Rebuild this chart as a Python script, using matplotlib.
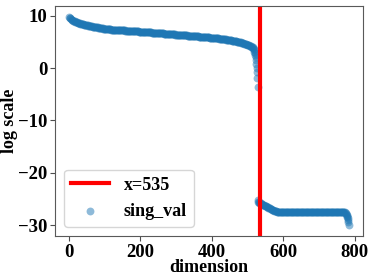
import numpy             as np
import matplotlib
matplotlib.use("Agg")
import matplotlib.pyplot as plt

#*---------- ----------
#*     data
#*---------- ----------
cut = 535

# upper part, every 4th dimension 0..516
dim_head = list(range(0, 520, 4))
val_head = [
    9.80, 9.50, 9.27, 9.08, 8.93, 8.80, 8.70, 8.60, 8.51, 8.43,
    8.36, 8.29, 8.22, 8.15, 8.09, 8.03, 7.97, 7.92, 7.87, 7.82,
    7.77, 7.72, 7.67, 7.62, 7.57, 7.50, 7.47, 7.45, 7.42, 7.40,
    7.37, 7.35, 7.33, 7.31, 7.29, 7.27, 7.25, 7.23, 7.21, 7.19,
    7.17, 7.15, 7.13, 7.11, 7.09, 7.07, 7.05, 7.03, 7.01, 6.99,
    6.97, 6.95, 6.93, 6.91, 6.89, 6.86, 6.84, 6.82, 6.80, 6.77,
    6.75, 6.73, 6.71, 6.68, 6.66, 6.64, 6.62, 6.59, 6.57, 6.55,
    6.53, 6.50, 6.48, 6.46, 6.44, 6.41, 6.39, 6.37, 6.35, 6.32,
    6.30, 6.28, 6.26, 6.23, 6.21, 6.19, 6.16, 6.14, 6.12, 6.09,
    6.07, 6.04, 6.02, 6.00, 5.97, 5.95, 5.92, 5.90, 5.87, 5.84,
    5.81, 5.78, 5.75, 5.72, 5.69, 5.65, 5.62, 5.58, 5.54, 5.50,
    5.46, 5.42, 5.37, 5.32, 5.27, 5.22, 5.16, 5.10, 5.04, 4.97,
    4.90, 4.82, 4.74, 4.65, 4.55, 4.45, 4.33, 4.20, 4.05, 3.85,
]

# upper part, the dimensions in between (2, 6, ..., 514)
dim_head2 = list(range(2, 516, 4))
val_head2 = [
    9.63, 9.38, 9.17, 9.00, 8.86, 8.75, 8.65, 8.55, 8.47, 8.39,
    8.32, 8.25, 8.18, 8.12, 8.06, 8.00, 7.94, 7.89, 7.84, 7.79,
    7.74, 7.69, 7.64, 7.59, 7.53, 7.48, 7.46, 7.43, 7.41, 7.38,
    7.36, 7.34, 7.32, 7.30, 7.28, 7.26, 7.24, 7.22, 7.20, 7.18,
    7.16, 7.14, 7.12, 7.10, 7.08, 7.06, 7.04, 7.02, 7.00, 6.98,
    6.96, 6.94, 6.92, 6.90, 6.87, 6.85, 6.83, 6.81, 6.78, 6.76,
    6.74, 6.72, 6.69, 6.67, 6.65, 6.63, 6.60, 6.58, 6.56, 6.54,
    6.51, 6.49, 6.47, 6.45, 6.42, 6.40, 6.38, 6.36, 6.33, 6.31,
    6.29, 6.27, 6.24, 6.22, 6.20, 6.17, 6.15, 6.13, 6.10, 6.08,
    6.05, 6.03, 6.01, 5.98, 5.96, 5.93, 5.91, 5.88, 5.85, 5.82,
    5.79, 5.76, 5.73, 5.70, 5.67, 5.63, 5.60, 5.56, 5.52, 5.48,
    5.44, 5.39, 5.34, 5.29, 5.24, 5.19, 5.13, 5.07, 5.00, 4.93,
    4.86, 4.78, 4.69, 4.60, 4.50, 4.39, 4.27, 4.13, 3.96,
]

# steep drop, every dimension 517..528
dim_drop = list(range(517, 529))
val_drop = [3.60, 3.40, 3.15, 2.90, 2.55, 2.10, 1.50, 0.80, 0.10, -0.80, -1.90, -3.60]

# lower part start 529..531, then every 4th 532..768
dim_low = [529, 530, 531] + list(range(532, 772, 4))
val_low = [
    -25.30, -25.50, -25.60,
    -25.70, -25.85, -26.00, -26.15, -26.30, -26.45, -26.60, -26.75, -26.90, -27.05,
    -27.20, -27.30, -27.40, -27.45, -27.50, -27.50, -27.50, -27.50, -27.50, -27.50,
    -27.50, -27.50, -27.50, -27.50, -27.50, -27.50, -27.50, -27.50, -27.50, -27.50,
    -27.50, -27.50, -27.50, -27.50, -27.50, -27.50, -27.50, -27.50, -27.50, -27.50,
    -27.50, -27.50, -27.50, -27.50, -27.50, -27.50, -27.50, -27.50, -27.50, -27.50,
    -27.50, -27.50, -27.50, -27.50, -27.50, -27.50, -27.50, -27.50, -27.50, -27.50,
]

# lower part, the dimensions in between (534, 538, ..., 766)
dim_low2 = list(range(534, 770, 4))
val_low2 = [
    -25.78, -25.93, -26.08, -26.23, -26.38, -26.53, -26.68, -26.83, -26.98, -27.13,
    -27.25, -27.35, -27.43, -27.48, -27.50, -27.50, -27.50, -27.50, -27.50, -27.50,
    -27.50, -27.50, -27.50, -27.50, -27.50, -27.50, -27.50, -27.50, -27.50, -27.50,
    -27.50, -27.50, -27.50, -27.50, -27.50, -27.50, -27.50, -27.50, -27.50, -27.50,
    -27.50, -27.50, -27.50, -27.50, -27.50, -27.50, -27.50, -27.50, -27.50, -27.50,
    -27.50, -27.50, -27.50, -27.50, -27.50, -27.50, -27.50, -27.50, -27.50,
]

# tail 770..783
dim_tail = [770, 772, 774, 776, 777, 778, 779, 780, 781, 782, 783]
val_tail = [-27.55, -27.60, -27.70, -27.85, -28.00, -28.20, -28.40, -28.70, -29.00, -29.40, -29.90]

dims = np.array(dim_head + dim_head2 + dim_drop + dim_low + dim_low2 + dim_tail)
sing_val = np.array(val_head + val_head2 + val_drop + val_low + val_low2 + val_tail)
order = np.argsort(dims)
dims, sing_val = dims[order], sing_val[order]

#*---------- ----------
#*     plot
#*---------- ----------
plt.rcParams['font.family'] = ['Liberation Serif', 'DejaVu Serif']
plt.rcParams['font.weight'] = 'bold'

fig = plt.figure(figsize=(3.74, 2.79), dpi=100)
ax = fig.add_axes([0.147, 0.154, 0.824, 0.825])

ax.axvline(cut, color='red', linewidth=3, label='x=%d' % cut)
ax.scatter(dims, sing_val, s=32, alpha=0.5, color='#1f77b4', label='sing_val', linewidths=0)

ax.set_xlim(-39, 823)
ax.set_ylim(-32.1, 11.9)
ax.set_xticks([0, 200, 400, 600, 800])
ax.set_yticks([-30, -20, -10, 0, 10])
ax.tick_params(labelsize=13.5, pad=2, color='0.3')
for sp in ax.spines.values():
    sp.set_color('0.35')
for lab in ax.get_xticklabels() + ax.get_yticklabels():
    lab.set_fontweight('bold')

ax.set_xlabel('dimension', fontweight='bold', fontsize=13, labelpad=-1)
ax.set_ylabel('log scale', fontweight='bold', fontsize=13, labelpad=0)
ax.legend(loc='lower left', prop={'weight': 'bold', 'size': 13}, handlelength=2.1)

fig.savefig('out.png', dpi=100)
